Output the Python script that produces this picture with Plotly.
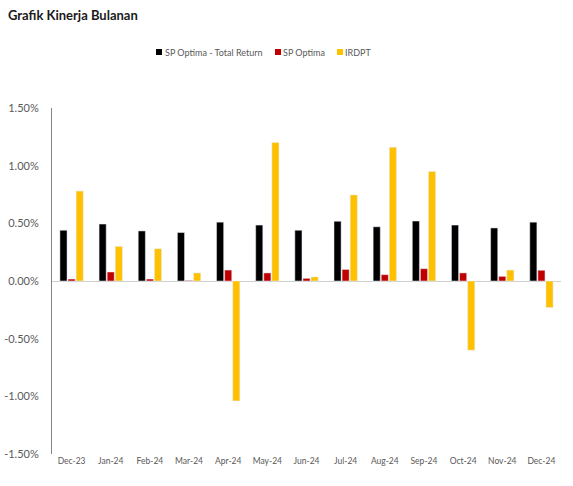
import plotly.graph_objects as go

months = ["Dec-23", "Jan-24", "Feb-24", "Mar-24", "Apr-24", "May-24", "Jun-24",
          "Jul-24", "Aug-24", "Sep-24", "Oct-24", "Nov-24", "Dec-24"]
total_return = [0.44, 0.494, 0.434, 0.42, 0.51, 0.485, 0.44, 0.518, 0.47, 0.52, 0.485, 0.46, 0.51]
sp_optima = [0.017, 0.078, 0.017, 0.005, 0.095, 0.07, 0.023, 0.10, 0.055, 0.107, 0.07, 0.04, 0.093]
irdpt = [0.78, 0.30, 0.28, 0.07, -1.04, 1.20, 0.035, 0.746, 1.16, 0.95, -0.60, 0.095, -0.23]

series_names = ["SP Optima - Total Return", "SP Optima", "IRDPT"]
series_colors = ["#000000", "#C00000", "#FFC000"]

tick_vals = [-1.5, -1.0, -0.5, 0.0, 0.5, 1.0, 1.5]
tick_text = ["-1.50%", "-1.00%", "-0.50%", "0.00%", "0.50%", "1.00%", "1.50%"]

FONT = "Lato"
W, H = 573, 486
L, R, T, B = 52, 12, 108, 32
pw, ph = W - L - R, H - T - B


def px_x(px):
    return (px - L) / pw


def px_y(py):
    return (H - B - py) / ph


fig = go.Figure()
for name, vals, col in zip(series_names, [total_return, sp_optima, irdpt], series_colors):
    fig.add_bar(x=months, y=vals, name=name, marker_color=col, showlegend=False)

# compact legend (swatch + label)
sq_left = [156, 275, 337]
txt_left = [163, 281, 343]
for name, col, sx, tx in zip(series_names, series_colors, sq_left, txt_left):
    fig.add_shape(type="rect", xref="paper", yref="paper",
                  x0=px_x(sx), x1=px_x(sx + 6), y0=px_y(55), y1=px_y(49),
                  fillcolor=col, line_width=0)
    fig.add_annotation(text=name, xref="paper", yref="paper", x=px_x(tx), y=px_y(52),
                       xanchor="left", yanchor="middle", showarrow=False,
                       font=dict(size=9, color="#595959", family=FONT))

fig.update_layout(
    width=W, height=H,
    margin=dict(l=L, r=R, t=T, b=B, autoexpand=False),
    paper_bgcolor="white", plot_bgcolor="white",
    font=dict(family=FONT, color="#595959"),
    barmode="group", bargap=0.38, bargroupgap=0.12,
    title=dict(text="<b>Grafik Kinerja Bulanan</b>", x=8 / W, xanchor="left", xref="container",
               y=1 - 15 / H, yanchor="middle", yref="container",
               font=dict(size=13, color="#1a1a1a", family=FONT)),
    showlegend=False,
)
fig.update_xaxes(showline=False, showgrid=False, ticks="", automargin=False,
                 tickfont=dict(size=8.5, color="#595959"))
fig.update_yaxes(range=[-1.5, 1.5], tickvals=tick_vals, ticktext=tick_text, showgrid=False,
                 showline=True, linecolor="#868686", linewidth=1, automargin=False,
                 zeroline=True, zerolinecolor="#D0D0D0", zerolinewidth=1,
                 tickfont=dict(size=11, color="#595959"), ticks="", ticklabelstandoff=10)

fig.write_html("out.html", config={"displayModeBar": False},
               post_script="document.body.style.margin='0';")
